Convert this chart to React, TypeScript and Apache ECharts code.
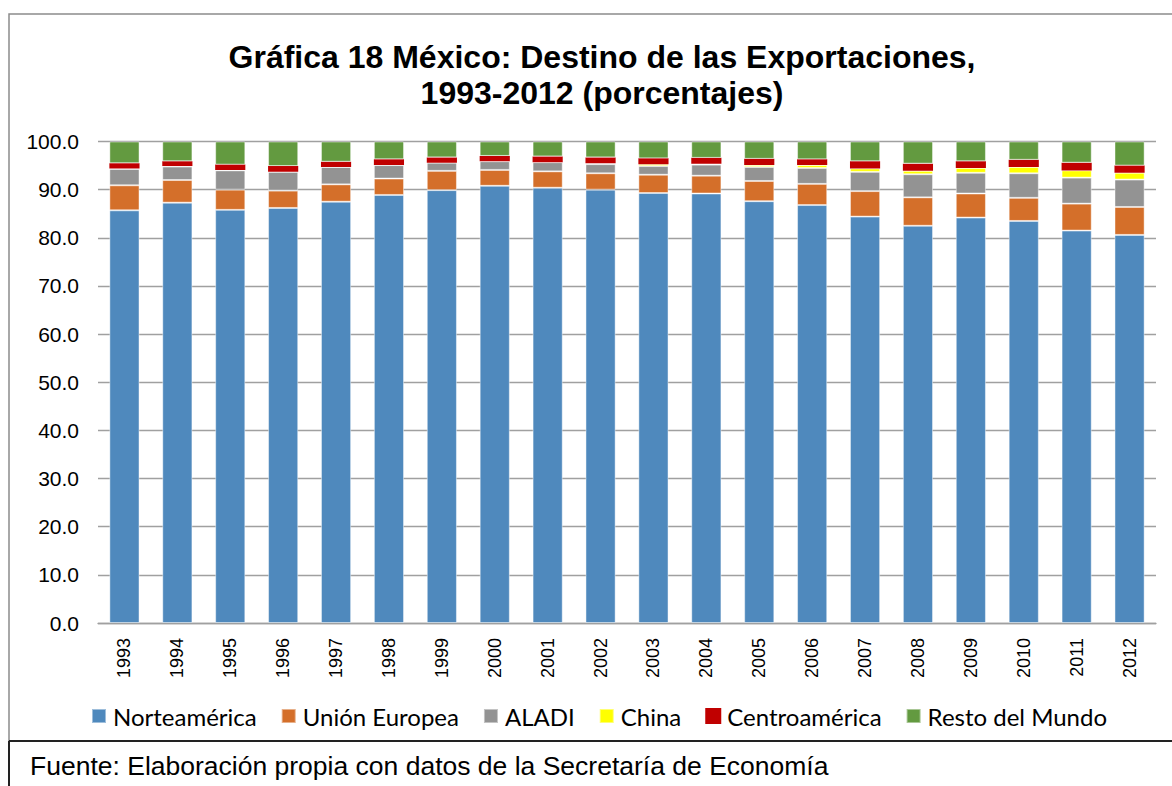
import React, { useEffect, useRef } from "react";
import * as echarts from "echarts";

const years = ["1993","1994","1995","1996","1997","1998","1999","2000","2001","2002","2003","2004","2005","2006","2007","2008","2009","2010","2011","2012"];
const norteamerica = [85.7,87.3,85.8,86.2,87.5,88.9,89.9,90.8,90.4,90.0,89.3,89.2,87.6,86.8,84.4,82.5,84.2,83.5,81.5,80.6];
const unionEuropea = [5.2,4.7,4.2,3.6,3.6,3.4,4.0,3.3,3.4,3.4,3.8,3.7,4.2,4.4,5.3,5.9,5.0,4.8,5.6,5.8];
const aladi = [3.4,2.8,4.0,3.9,3.6,2.8,1.7,1.8,1.9,1.9,1.8,2.3,2.9,3.3,4.0,4.8,4.3,5.1,5.4,5.7];
const china = [0.1,0.1,0.1,0.0,0.0,0.0,0.0,0.0,0.0,0.2,0.4,0.2,0.4,0.6,0.7,0.7,1.0,1.3,1.5,1.4];
const centroamerica = [1.1,1.0,1.1,1.2,1.1,1.2,1.1,1.1,1.2,1.2,1.2,1.2,1.3,1.2,1.5,1.5,1.4,1.5,1.6,1.5];
const restoMundo = [4.5,4.1,4.8,5.1,4.2,3.7,3.3,3.0,3.1,3.3,3.5,3.4,3.6,3.7,4.1,4.6,4.1,3.8,4.4,5.0];

const seriesNames = ["Norteamérica","Unión Europea","ALADI","China","Centroamérica","Resto del Mundo"];
const seriesData = [norteamerica, unionEuropea, aladi, china, centroamerica, restoMundo];
const seriesColors = ["#4F89BD","#D46F2A","#939393","#FFFF00","#C00000","#639A40"];

const titleText = "Gráfica 18 México: Destino de las Exportaciones,\n1993-2012 (porcentajes)";
const sourceText = "Fuente: Elaboración propia con datos de la Secretaría de Economía";

export default function App() {
  const ref = useRef<HTMLDivElement>(null);
  useEffect(() => {
    document.body.style.margin = "0";
    const chart = echarts.init(ref.current!, null, { renderer: "svg" });
    chart.setOption({
      animation: false,
      backgroundColor: "#ffffff",
      title: {
        text: titleText,
        left: 597,
        textAlign: "center",
        top: 34,
        textStyle: {
          fontFamily: "Liberation Sans, Arial, sans-serif",
          fontSize: 32,
          fontWeight: "bold",
          color: "#000",
          lineHeight: 36,
        },
      },
      legend: {
        top: 704,
        left: 91,
        padding: 0,
        itemWidth: 14,
        itemHeight: 14,
        itemGap: 24,
        icon: "rect",
        textStyle: {
          fontFamily: "Lato, Carlito, sans-serif",
          fontSize: 24,
          color: "#000",
          padding: [0, 0, 0, 2],
        },
        data: seriesNames,
      },
      grid: { left: 98, right: 16, top: 141.5, bottom: 163 },
      xAxis: {
        type: "category",
        data: years,
        axisLine: { lineStyle: { color: "#a0a0a0", width: 1.3 } },
        axisTick: { show: false },
        axisLabel: {
          rotate: 90,
          margin: 15,
          fontFamily: "Liberation Sans, Arial, sans-serif",
          fontSize: 18,
          color: "#000",
        },
      },
      yAxis: {
        type: "value",
        min: 0,
        max: 100,
        interval: 10,
        axisLine: { show: false },
        axisTick: { show: false },
        splitLine: { lineStyle: { color: "#a0a0a0", width: 1.3 } },
        axisLabel: {
          margin: 19,
          fontFamily: "Liberation Sans, Arial, sans-serif",
          fontSize: 21,
          color: "#000",
          formatter: (v: number) => v.toFixed(1),
        },
      },
      series: seriesNames.map((name, i) => ({
        name,
        type: "bar",
        stack: "total",
        barCategoryGap: "43%",
        data: seriesData[i],
        itemStyle: {
          color: seriesColors[i],
          borderColor: i === 4 ? "#C00000" : "rgba(255,255,255,0.45)",
          borderWidth: i === 4 ? 2.5 : 1,
        },
      })),
      graphic: [
        {
          type: "rect",
          shape: { x: 9, y: 14, width: 1200, height: 727 },
          style: { fill: "none", stroke: "#8c8c8c", lineWidth: 1.5 },
          silent: true,
        },
        {
          type: "line",
          shape: { x1: 9, y1: 741, x2: 1172, y2: 741 },
          style: { stroke: "#222", lineWidth: 2 },
          silent: true,
        },
        {
          type: "line",
          shape: { x1: 9, y1: 741, x2: 9, y2: 786 },
          style: { stroke: "#222", lineWidth: 2 },
          silent: true,
        },
        {
          type: "text",
          left: 30,
          top: 752,
          style: {
            text: sourceText,
            fontFamily: "Liberation Sans, Arial, sans-serif",
            fontSize: 26.5,
            fill: "#000",
          },
          silent: true,
        },
      ],
    });
    return () => chart.dispose();
  }, []);
  return (
    <div
      ref={ref}
      style={{ position: "absolute", left: 0, top: 0, width: 1172, height: 786 }}
    />
  );
}
